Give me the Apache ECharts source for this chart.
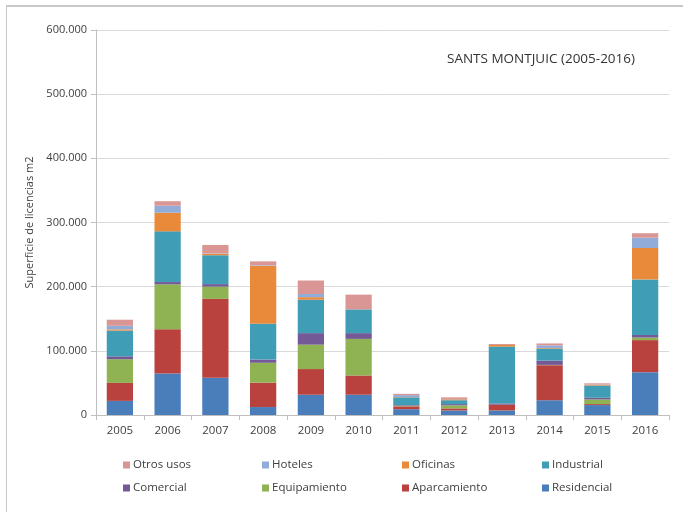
<!DOCTYPE html>
<html>
<head>
<meta charset="utf-8">
<script src="https://cdn.jsdelivr.net/npm/echarts@6/dist/echarts.min.js"></script>
<style>
html,body{margin:0;padding:0;background:#fff;}
#frame{position:absolute;left:6px;top:5px;width:700px;height:520px;border-left:1px solid #c8c8c8;border-top:2px solid #c8c8c8;}
#chart{position:absolute;left:0;top:0;width:683px;height:512px;}
</style>
</head>
<body>
<div id="frame"></div>
<div id="chart"></div>
<script>
var years = ['2005','2006','2007','2008','2009','2010','2011','2012','2013','2014','2015','2016'];
var residencial  = [22000, 64700, 58000, 12400, 31600, 31600, 9000, 7000, 7000, 23000, 15500, 66700];
var aparcamiento = [28000, 69000, 123000, 38000, 40000, 30000, 4500, 3300, 9000, 54600, 1500, 50000];
var equipamiento = [37000, 70000, 19000, 31000, 38000, 57000, 1000, 4700, 0, 500, 7300, 4000];
var comercial    = [4500, 3500, 4000, 5000, 18000, 9000, 1000, 2000, 2000, 6700, 2600, 4000];
var industrial   = [40000, 79000, 45000, 56000, 52000, 37000, 12000, 6000, 88600, 18700, 19000, 86600];
var oficinas     = [2000, 29000, 2500, 90000, 4000, 0, 500, 1500, 2500, 1000, 1000, 49000];
var hoteles      = [5500, 11000, 500, 1000, 5000, 0, 3000, 500, 0, 4000, 500, 16000];
var otrosUsos    = [9500, 7000, 13000, 6000, 21000, 23000, 2000, 2500, 1500, 3000, 2000, 7000];
var yTicks = [0, 100000, 200000, 300000, 400000, 500000, 600000];
var legendRow1 = ['Otros usos','Hoteles','Oficinas','Industrial'];
var legendRow2 = ['Comercial','Equipamiento','Aparcamiento','Residencial'];

var seriesDefs = [
  ['Residencial', residencial, '#4a7ebb'],
  ['Aparcamiento', aparcamiento, '#b9423f'],
  ['Equipamiento', equipamiento, '#8fb253'],
  ['Comercial', comercial, '#735a97'],
  ['Industrial', industrial, '#3f9db5'],
  ['Oficinas', oficinas, '#e98a3b'],
  ['Hoteles', hoteles, '#91acd8'],
  ['Otros usos', otrosUsos, '#d99694']
];

function fmt(v){
  return String(v).replace(/\B(?=(\d{3})+(?!\d))/g, '.');
}

var font = 'Open Sans';
var colLeft = [123, 262, 402, 542];
var legends = [];
[legendRow1, legendRow2].forEach(function(row, r){
  row.forEach(function(name, c){
    legends.push({
      left: colLeft[c], top: 459 + r*23, padding:0,
      itemWidth:7, itemHeight:7, icon:'rect', selectedMode:false,
      textStyle:{fontFamily:font, fontSize:11.5, color:'#404040', padding:[0,0,0,-2]},
      data:[name]
    });
  });
});

var chart = echarts.init(document.getElementById('chart'), null, {renderer:'canvas'});
var option = {
  animation:false,
  backgroundColor:'transparent',
  title:{
    text:'SANTS MONTJUIC (2005-2016)',
    left:442, top:47,
    textStyle:{fontFamily:font, fontSize:13.5, fontWeight:'normal', color:'#333'}
  },
  legend: legends,
  grid:{left:96, right:14, top:30, bottom:97, containLabel:false},
  xAxis:{
    type:'category', data:years,
    axisLine:{lineStyle:{color:'#bfbfbf'}},
    axisTick:{show:true, length:5, lineStyle:{color:'#bfbfbf'}},
    axisLabel:{fontFamily:font, fontSize:11.5, color:'#404040', margin:10}
  },
  yAxis:{
    type:'value', min:yTicks[0], max:yTicks[yTicks.length-1], interval:yTicks[1]-yTicks[0],
    name:'Superficie de licencias m2', nameLocation:'middle', nameGap:61, nameRotate:90,
    nameTextStyle:{fontFamily:font, fontSize:11, color:'#404040'},
    axisLine:{show:true, lineStyle:{color:'#bfbfbf'}},
    axisTick:{show:true, length:5, lineStyle:{color:'#bfbfbf'}},
    splitLine:{lineStyle:{color:'#d9d9d9'}},
    axisLabel:{fontFamily:font, fontSize:11, color:'#404040', margin:9, formatter:fmt}
  },
  series: seriesDefs.map(function(d){
    return {name:d[0], type:'bar', stack:'total', data:d[1], barWidth:'55%',
            itemStyle:{color:d[2]}};
  })
};
chart.setOption(option);
</script>
</body>
</html>
